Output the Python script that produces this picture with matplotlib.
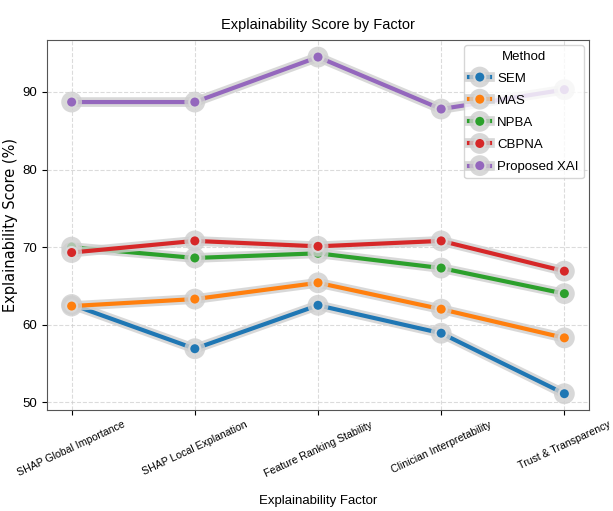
import matplotlib
matplotlib.use("Agg")
import matplotlib.pyplot as plt
import matplotlib.patheffects as pe

factors = ["SHAP Global Importance", "SHAP Local Explanation", "Feature Ranking Stability",
           "Clinician Interpretability", "Trust & Transparency"]
methods = ["SEM", "MAS", "NPBA", "CBPNA", "Proposed XAI"]
sem = [62.6, 56.9, 62.5, 58.9, 51.1]
mas = [62.4, 63.3, 65.4, 62.0, 58.3]
npba = [70.0, 68.6, 69.2, 67.3, 64.0]
cbpna = [69.3, 70.8, 70.1, 70.8, 66.9]
proposed = [88.7, 88.7, 94.5, 87.8, 90.3]
series = [sem, mas, npba, cbpna, proposed]
colors = ["#1f77b4", "#ff7f0e", "#2ca02c", "#d62728", "#9467bd"]

narrow = ['Liberation Sans', 'DejaVu Sans']
plt.rcParams['font.family'] = ['DejaVu Sans']
fig = plt.figure(figsize=(6.13, 5.11), dpi=100)
ax = fig.add_axes([47/613, 1 - 410/511, 542/613, 370/511])

x = list(range(len(factors)))
for name, vals, c in zip(methods, series, colors):
    ax.plot(x, vals, marker='o', color=c, lw=3, ms=8, label=name,
            markeredgecolor='#d9d9d9', markeredgewidth=1.5,
            path_effects=[pe.Stroke(linewidth=7, foreground='#cfcfcf', alpha=0.8), pe.Normal()])

ax.set_xlim(-0.2, 4.2)
ax.set_ylim(49.0, 96.7)
ax.set_yticks([50, 60, 70, 80, 90])
ax.set_xticks(x)
ax.set_xticklabels(factors, rotation=25, fontsize=7.6, family=narrow)
for lbl in ax.get_yticklabels():
    lbl.set_family(narrow)
ax.tick_params(axis='y', labelsize=9.5)
ax.grid(True, linestyle='--', color='#cccccc', alpha=0.7)
for s in ax.spines.values():
    s.set_color('#555555')
ax.set_title("Explainability Score by Factor", fontsize=10.5, family=narrow, pad=8)
ax.set_xlabel("Explainability Factor", fontsize=9.5, family=narrow, labelpad=12)
ax.set_ylabel("Explainability Score (%)", fontsize=10.5, labelpad=3)
leg = ax.legend(title="Method", loc='upper right', prop={'family': narrow, 'size': 9.5},
                title_fontproperties={'family': narrow, 'size': 9.5}, borderaxespad=0.4,
                labelspacing=0.75, handlelength=1.6, handletextpad=0.5)
fig.savefig("out.png", dpi=100)
